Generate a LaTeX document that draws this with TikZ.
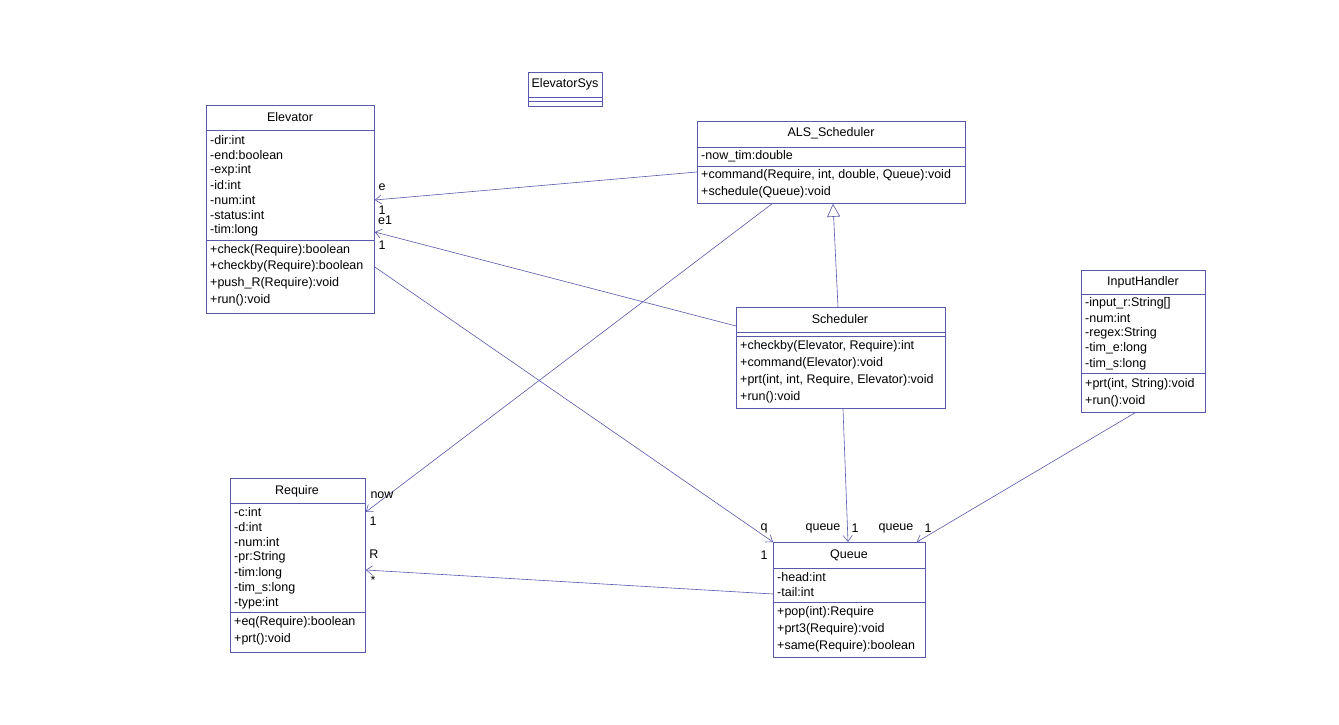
\documentclass[tikz,border=0pt]{standalone}
\usepackage{fontspec}
\setmainfont{Liberation Sans}
\usetikzlibrary{arrows.meta,calc}
\definecolor{umlline}{RGB}{88,88,172}
\tikzset{
  classbox/.style={draw=umlline,line width=0.8pt,anchor=north west,inner sep=0pt},
  member/.style={anchor=west,inner sep=0pt},
  title/.style={inner sep=0pt},
  assoc/.style={draw=umlline,line width=0.6pt,-{Straight Barb[length=6pt,width=9pt]}},
  inherit/.style={draw=umlline,line width=0.6pt,-{Triangle[open,length=13pt,width=13pt]}},
  role/.style={inner sep=0pt}
}
\begin{document}
\begin{tikzpicture}[x=1pt,y=-1pt,font=\fontsize{12.5}{15}\selectfont]
  \useasboundingbox (0,0) rectangle (1339,725);
  % Elevator
  \node[classbox,minimum width=168,minimum height=208] (elev) at (206,105) {};
  \node[title] (elevT) at (290,117) {Elevator};
  \draw[umlline,line width=0.8pt] (206,130)--(374,130) (206,240)--(374,240);
  \foreach \t [count=\i from 0] in {-dir:int,-end:boolean,-exp:int,-id:int,-num:int,-status:int,-tim:long}
    \node[member] at (210,140+15*\i) {\t};
  \foreach \t [count=\i from 0] in {+check(Require):boolean,+checkby(Require):boolean,+push\_R(Require):void,+run():void}
    \node[member] at (210,250+16.7*\i) {\t};
  % ElevatorSys
  \node[classbox,minimum width=74,minimum height=34] (sys) at (528,72) {};
  \node[title] (sysT) at (565,84) {ElevatorSys};
  \draw[umlline,line width=0.8pt] (528,97)--(602,97) (528,101)--(602,101);
  % ALS_Scheduler
  \node[classbox,minimum width=268,minimum height=82] (als) at (697,121) {};
  \node[title] (alsT) at (831,133) {ALS\_Scheduler};
  \draw[umlline,line width=0.8pt] (697,147)--(965,147) (697,166)--(965,166);
  \node[member] at (701,156) {-now\_tim:double};
  \node[member] at (701,175) {+command(Require, int, double, Queue):void};
  \node[member] at (701,192) {+schedule(Queue):void};
  % Scheduler
  \node[classbox,minimum width=209,minimum height=101] (sched) at (736,307) {};
  \node[title] (schedT) at (840,319) {Scheduler};
  \draw[umlline,line width=0.8pt] (736,332)--(945,332) (736,336)--(945,336);
  \foreach \t [count=\i from 0] in {{+checkby(Elevator, Require):int},+command(Elevator):void,{+prt(int, int, Require, Elevator):void},+run():void}
    \node[member] at (740,346+17*\i) {\t};
  % InputHandler
  \node[classbox,minimum width=124,minimum height=142] (input) at (1081,270) {};
  \node[title] (inputT) at (1143,282) {InputHandler};
  \draw[umlline,line width=0.8pt] (1081,294)--(1205,294) (1081,373)--(1205,373);
  \foreach \t [count=\i from 0] in {-input\_r:String[],-num:int,-regex:String,-tim\_e:long,-tim\_s:long}
    \node[member] at (1085,303+15.2*\i) {\t};
  \node[member] at (1085,384) {+prt(int, String):void};
  \node[member] at (1085,401) {+run():void};
  % Require
  \node[classbox,minimum width=135,minimum height=174] (req) at (230,478) {};
  \node[title] (reqT) at (297,491) {Require};
  \draw[umlline,line width=0.8pt] (230,503)--(365,503) (230,612)--(365,612);
  \foreach \t [count=\i from 0] in {-c:int,-d:int,-num:int,-pr:String,-tim:long,-tim\_s:long,-type:int}
    \node[member] at (234,512+15.2*\i) {\t};
  \node[member] at (234,622) {+eq(Require):boolean};
  \node[member] at (234,639) {+prt():void};
  % Queue
  \node[classbox,minimum width=152,minimum height=115] (queue) at (773,542) {};
  \node[title] (queueT) at (849,555) {Queue};
  \draw[umlline,line width=0.8pt] (773,568)--(925,568) (773,602)--(925,602);
  \node[member] at (777,577) {-head:int};
  \node[member] at (777,592) {-tail:int};
  \foreach \t [count=\i from 0] in {+pop(int):Require,+prt3(Require):void,+same(Require):boolean}
    \node[member] at (777,612+17*\i) {\t};
  % connectors
  \draw[assoc] ($(als.north west)+(0,51)$) -- ($(elev.north east)+(0,95)$);
  \draw[assoc] ($(sched.north west)+(0,19)$) -- ($(elev.north east)+(0,127)$);
  \draw[assoc] ($(elev.north east)+(0,162)$) -- (queue.north west);
  \draw[assoc] ($(als.south west)+(75,0)$) -- ($(req.north east)+(0,34)$);
  \draw[assoc] ($(queue.north west)+(0,52)$) -- ($(req.north east)+(0,92)$);
  \draw[inherit] ($(sched.north west)+(102,0)$) -- ($(als.south west)+(136,0)$);
  \draw[assoc] ($(sched.south west)+(107,0)$) -- ($(queue.north west)+(75,0)$);
  \draw[assoc] ($(input.south west)+(54,0)$) -- ($(queue.north east)+(-9,0)$);
  % roles
  \node[role] (rE) at (382,187) {e};
  \node[role] (rE1) at (382,210) {1};
  \node[role] (rEa) at (385,220) {e1};
  \node[role] (rEa1) at (382,245) {1};
  \node[role] (rQ) at (764,528) {q};
  \node[role] (rQ1) at (764,555) {1};
  \node[role] (rNow) at (382,495) {now};
  \node[role] (rNow1) at (373,521) {1};
  \node[role] (rR) at (374,554) {R};
  \node[role] (rR1) at (373,580) {*};
  \node[role] (rQa) at (823,528) {queue};
  \node[role] (rQa1) at (855,528) {1};
  \node[role] (rQb) at (896,528) {queue};
  \node[role] (rQb1) at (928,528) {1};
\end{tikzpicture}
\end{document}
